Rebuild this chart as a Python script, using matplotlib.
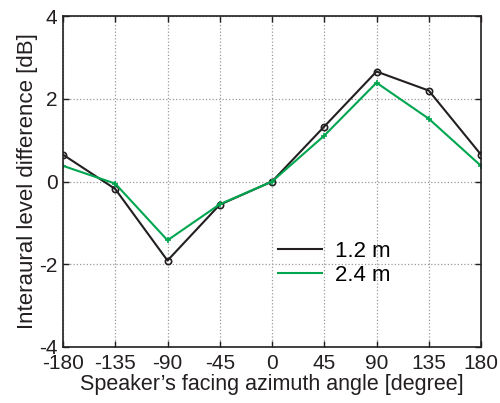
import matplotlib
matplotlib.use("Agg")
import matplotlib.pyplot as plt

angles = [-180, -135, -90, -45, 0, 45, 90, 135, 180]
ild_12 = [0.65, -0.18, -1.91, -0.56, 0.0, 1.33, 2.66, 2.2, 0.65]
ild_24 = [0.38, -0.05, -1.42, -0.55, 0.0, 1.11, 2.39, 1.52, 0.38]
xticks = [-180, -135, -90, -45, 0, 45, 90, 135, 180]
yticks = [-4, -2, 0, 2, 4]

plt.rcParams['font.family'] = ['Liberation Sans', 'DejaVu Sans']

fig = plt.figure(figsize=(5.0, 4.03), dpi=100)
ax = fig.add_axes([0.126, 0.139, 0.836, 0.821])

black = '#231f20'
green = '#00a64f'
ax.plot(angles, ild_12, color=black, lw=1.5, marker='o', ms=4.5, mfc='none', mew=1.2, label='1.2 m')
ax.plot(angles, ild_24, color=green, lw=1.5, marker='+', ms=5, mew=1.2, label='2.4 m')

ax.set_xlim(-180, 180)
ax.set_ylim(-4, 4)
ax.set_xticks(xticks)
ax.set_yticks(yticks)
ax.set_xticklabels([str(t) for t in xticks])
ax.set_yticklabels([str(t) for t in yticks])
ax.tick_params(direction='in', top=True, right=True, labelsize=15, length=4, width=1, colors=black)
ax.tick_params(axis='x', pad=5)
ax.tick_params(axis='y', pad=4)
ax.grid(True, linestyle=':', color='#9a9a9a', lw=0.9)
for s in ax.spines.values():
    s.set_linewidth(1.2)
    s.set_color(black)

ax.set_xlabel("Speaker\u2019s facing azimuth angle [degree]", fontsize=15.5, color=black, labelpad=1)
ax.set_ylabel("Interaural level difference [dB]", fontsize=16, color=black, labelpad=1)

leg = ax.legend(handles=[l for l in ax.get_lines()], loc='upper left', bbox_to_anchor=(0.493, 0.348),
                frameon=False, fontsize=16, handlelength=2.0, handletextpad=0.55, labelspacing=0.15,
                borderaxespad=0)
for h in leg.legend_handles:
    h.set_marker('')

fig.savefig('out.png', dpi=100)
